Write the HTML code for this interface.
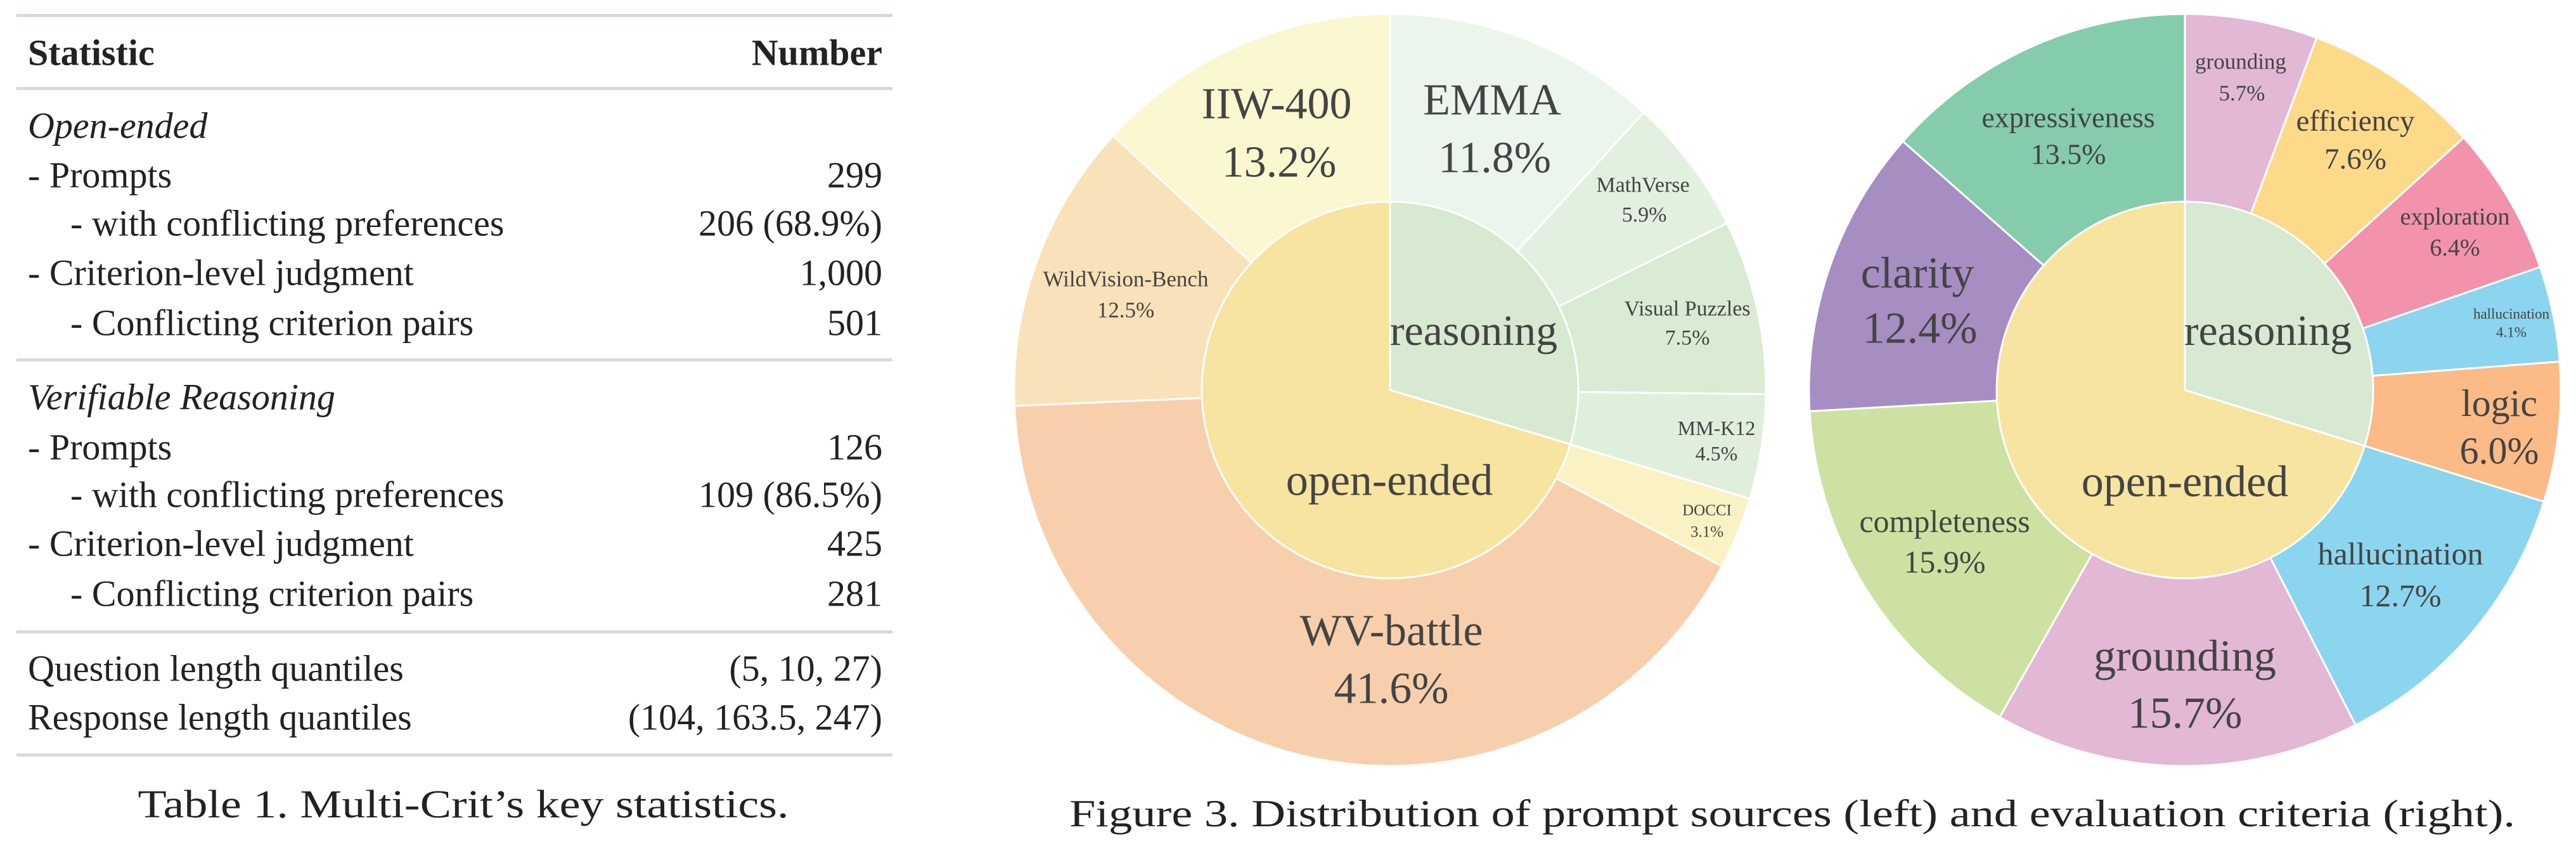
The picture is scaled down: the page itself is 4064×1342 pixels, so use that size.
<!DOCTYPE html>
<html><head><meta charset="utf-8"><style>
html,body{margin:0;padding:0;background:#fff;}
svg{display:block;font-family:"Liberation Serif","DejaVu Serif","Noto Serif CJK SC",serif;}
svg text{font-family:"Liberation Serif","DejaVu Serif","Noto Serif CJK SC",serif;}
</style></head><body>
<svg width="4064" height="1342" viewBox="0 0 4064 1342" xmlns="http://www.w3.org/2000/svg" style="font-family:'Liberation Serif','DejaVu Serif','Noto Serif CJK SC',serif">
<rect width="4064" height="1342" fill="#fff"/>
<g fill="#d5d9e2">
<rect x="26" y="22" width="1382" height="5"/>
<rect x="26" y="137" width="1382" height="5"/>
<rect x="26" y="565" width="1382" height="5"/>
<rect x="26" y="994" width="1382" height="5"/>
<rect x="26" y="1188" width="1382" height="5"/>
</g>
<g font-size="58" fill="#222" dominant-baseline="central">
<text x="44" y="83" font-weight="bold">Statistic</text>
<text x="1392" y="83" font-weight="bold" text-anchor="end">Number</text>
<text x="44" y="198" font-style="italic">Open-ended</text>
<text x="44" y="276">- Prompts</text><text x="1392" y="276" text-anchor="end">299</text>
<text x="111" y="352">- with conflicting preferences</text><text x="1392" y="352" text-anchor="end">206 (68.9%)</text>
<text x="44" y="430">- Criterion-level judgment</text><text x="1392" y="430" text-anchor="end">1,000</text>
<text x="111" y="509">- Conflicting criterion pairs</text><text x="1392" y="509" text-anchor="end">501</text>
<text x="44" y="626" font-style="italic">Verifiable Reasoning</text>
<text x="44" y="705">- Prompts</text><text x="1392" y="705" text-anchor="end">126</text>
<text x="111" y="780">- with conflicting preferences</text><text x="1392" y="780" text-anchor="end">109 (86.5%)</text>
<text x="44" y="857">- Criterion-level judgment</text><text x="1392" y="857" text-anchor="end">425</text>
<text x="111" y="936">- Conflicting criterion pairs</text><text x="1392" y="936" text-anchor="end">281</text>
<text x="44" y="1054">Question length quantiles</text><text x="1392" y="1054" text-anchor="end">(5, 10, 27)</text>
<text x="44" y="1131">Response length quantiles</text><text x="1392" y="1131" text-anchor="end">(104, 163.5, 247)</text>
<text x="731" y="1269" text-anchor="middle" font-size="62" textLength="1027" lengthAdjust="spacingAndGlyphs">Table 1. Multi-Crit’s key statistics.</text>
</g>

<g stroke="#fff" stroke-width="3" stroke-linejoin="round">
<path d="M2193 615 L2193 22 A593 593 0 0 1 2593.2 177.4 Z" fill="#ebf5ec"/>
<path d="M2193 615 L2593.2 177.4 A593 593 0 0 1 2724.4 351.9 Z" fill="#e2f0e0"/>
<path d="M2193 615 L2724.4 351.9 A593 593 0 0 1 2786.0 621.5 Z" fill="#d9ebd3"/>
<path d="M2193 615 L2786.0 621.5 A593 593 0 0 1 2760.7 786.5 Z" fill="#e0efdb"/>
<path d="M2193 615 L2760.7 786.5 A593 593 0 0 1 2716.7 893.0 Z" fill="#fbf2c4"/>
<path d="M2193 615 L2716.7 893.0 A593 593 0 0 1 1600.5 640.1 Z" fill="#f8cfac"/>
<path d="M2193 615 L1600.5 640.1 A593 593 0 0 1 1756.0 214.1 Z" fill="#f9e1b9"/>
<path d="M2193 615 L1756.0 214.1 A593 593 0 0 1 2193 22 Z" fill="#faf7d1"/>
<path d="M2193 615 L2193 318 A297 297 0 0 1 2477.4 700.5 Z" fill="#d7e9d1"/>
<path d="M2193 615 L2477.4 700.5 A297 297 0 1 1 2193 318 Z" fill="#f7e4a0"/>
</g>
<g fill="#444" text-anchor="middle" dominant-baseline="central">
<text x="2014" y="164" font-size="70">IIW-400</text><text x="2018" y="256" font-size="70">13.2%</text>
<text x="2354" y="158" font-size="70">EMMA</text><text x="2358" y="249" font-size="70">11.8%</text>
<text x="2592" y="292" font-size="34">MathVerse</text><text x="2594" y="339" font-size="34">5.9%</text>
<text x="2662" y="487" font-size="34">Visual Puzzles</text><text x="2662" y="533" font-size="34">7.5%</text>
<text x="2708" y="675" font-size="32">MM-K12</text><text x="2708" y="715" font-size="32">4.5%</text>
<text x="2693" y="805" font-size="25">DOCCI</text><text x="2693" y="839" font-size="25">3.1%</text>
<text x="1776" y="440" font-size="35">WildVision-Bench</text><text x="1776" y="489" font-size="35">12.5%</text>
<text x="2325" y="521" font-size="68">reasoning</text>
<text x="2192" y="758" font-size="70">open-ended</text>
<text x="2195" y="995" font-size="70">WV-battle</text><text x="2195" y="1086" font-size="70">41.6%</text>
</g>

<g stroke="#fff" stroke-width="3" stroke-linejoin="round">
<path d="M3447 615 L3447 22 A593 593 0 0 1 3654.8 59.6 Z" fill="#e3b8d5"/>
<path d="M3447 615 L3654.8 59.6 A593 593 0 0 1 3886.8 217.3 Z" fill="#fdd98a"/>
<path d="M3447 615 L3886.8 217.3 A593 593 0 0 1 4007.4 421.1 Z" fill="#f293ab"/>
<path d="M3447 615 L4007.4 421.1 A593 593 0 0 1 4038.3 570.3 Z" fill="#8bd5ef"/>
<path d="M3447 615 L4038.3 570.3 A593 593 0 0 1 4013.3 791.1 Z" fill="#fbba86"/>
<path d="M3447 615 L4013.3 791.1 A593 593 0 0 1 3716.2 1143.4 Z" fill="#8bd5ef"/>
<path d="M3447 615 L3716.2 1143.4 A593 593 0 0 1 3154.8 1131.0 Z" fill="#e3b8d5"/>
<path d="M3447 615 L3154.8 1131.0 A593 593 0 0 1 2854.9 648.5 Z" fill="#cde2a2"/>
<path d="M3447 615 L2854.9 648.5 A593 593 0 0 1 3002.2 222.9 Z" fill="#a68dc2"/>
<path d="M3447 615 L3002.2 222.9 A593 593 0 0 1 3447 22 Z" fill="#85ccad"/>
<path d="M3447 615 L3447 318 A297 297 0 0 1 3730.6 703.2 Z" fill="#d7e9d1"/>
<path d="M3447 615 L3730.6 703.2 A297 297 0 1 1 3447 318 Z" fill="#f7e4a0"/>
</g>
<g fill="#444" text-anchor="middle" dominant-baseline="central">
<text x="3535" y="97" font-size="35">grounding</text><text x="3537" y="147" font-size="35">5.7%</text>
<text x="3716" y="191" font-size="47">efficiency</text><text x="3716" y="251" font-size="47">7.6%</text>
<text x="3873" y="342" font-size="38">exploration</text><text x="3873" y="391" font-size="38">6.4%</text>
<text x="3962" y="495" font-size="23">hallucination</text><text x="3962" y="524" font-size="23">4.1%</text>
<text x="3943" y="636" font-size="60">logic</text><text x="3943" y="711" font-size="60">6.0%</text>
<text x="3787" y="873" font-size="50">hallucination</text><text x="3787" y="939" font-size="50">12.7%</text>
<text x="3447" y="1035" font-size="70">grounding</text><text x="3447" y="1125" font-size="70">15.7%</text>
<text x="3068" y="822" font-size="50">completeness</text><text x="3068" y="886" font-size="50">15.9%</text>
<text x="3025" y="431" font-size="70">clarity</text><text x="3029" y="518" font-size="70">12.4%</text>
<text x="3263" y="185" font-size="46">expressiveness</text><text x="3263" y="243" font-size="46">13.5%</text>
<text x="3578" y="521" font-size="68">reasoning</text>
<text x="3447" y="760" font-size="70">open-ended</text>
</g>

<text x="1687" y="1283" font-size="60" fill="#222" dominant-baseline="central" textLength="2281" lengthAdjust="spacingAndGlyphs">Figure 3. Distribution of prompt sources (left) and evaluation criteria (right).</text>
</svg>
</body></html>
